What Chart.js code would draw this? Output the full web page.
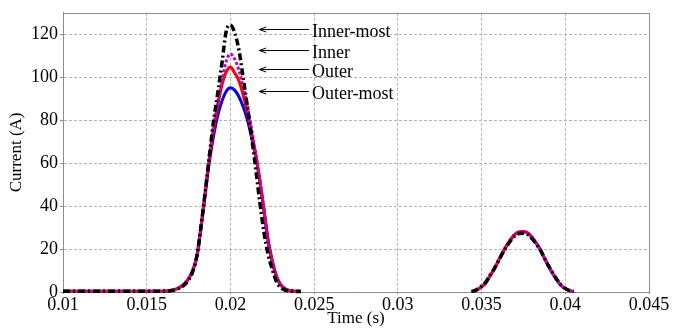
<!DOCTYPE html>
<html>
<head>
<meta charset="utf-8">
<script src="https://cdn.jsdelivr.net/npm/chart.js@4.4.0/dist/chart.umd.min.js"></script>
<style>
  html, body { margin: 0; padding: 0; background: #ffffff; }
  #c { display: block; }
</style>
</head>
<body>
<canvas id="c" width="674" height="331"></canvas>
<script>
// ---- data ----
const times = [
  0.010, 0.012, 0.014, 0.015, 0.0155, 0.016, 0.01625, 0.0165, 0.01675, 0.017,
  0.01725, 0.0175, 0.01775, 0.018, 0.01825, 0.0185, 0.01875, 0.019, 0.01925, 0.0195,
  0.01975, 0.020, 0.02025, 0.0205, 0.02075, 0.021, 0.02125, 0.0215, 0.02175, 0.022,
  0.02225, 0.0225, 0.02275, 0.023, 0.02325, 0.0235, 0.0238, 0.0242,
  0.029,
  0.0344, 0.0346, 0.03475, 0.035, 0.03525, 0.0355, 0.03575, 0.036, 0.03625, 0.0365,
  0.03675, 0.037, 0.03725, 0.0375, 0.03775, 0.038, 0.03825, 0.0385, 0.03875, 0.039,
  0.03925, 0.0395, 0.03975, 0.040, 0.0403, 0.0405
];

const innerMost = [
  0.3, 0.3, 0.3, 0.3, 0.3, 0.4, 0.5, 0.7, 1.1, 2.0,
  3.3, 5.5, 9.5, 17, 31, 47, 64, 80, 93, 107,
  121.5, 124.3, 120.8, 113, 100.3, 87, 73, 58, 42, 28,
  17.5, 10.5, 4.8, 2.0, 0.9, 0.5, 0.3, 0.2,
  null,
  0.3, 0.7, 1.3, 2.7, 4.6, 7.7, 10.8, 14.4, 18.0, 21.2,
  24.0, 26.2, 27.2, 27.4, 26.8, 25.0, 22.5, 19.6, 15.9, 12.2,
  8.9, 5.8, 3.3, 1.7, 0.6, 0.3
];

const inner = [
  0.3, 0.3, 0.3, 0.3, 0.3, 0.4, 0.5, 0.8, 1.3, 2.3,
  3.8, 6.2, 10, 17, 31, 47, 63, 77.5, 89, 98.5,
  107.5, 110.8, 108.5, 103.5, 96, 87, 76.5, 65, 52, 38,
  23.5, 14, 7, 3.2, 1.4, 0.7, 0.4, 0.3,
  null,
  0.2, 0.5, 1.1, 2.4, 4.3, 7.5, 10.6, 14.4, 18.2, 21.5,
  24.5, 26.8, 27.9, 28.1, 27.4, 25.5, 22.8, 19.8, 15.8, 12.0,
  8.6, 5.5, 3.0, 1.5, 0.5, 0.2
];

const outer = [
  0.3, 0.3, 0.3, 0.3, 0.3, 0.4, 0.5, 0.8, 1.3, 2.3,
  3.8, 6.2, 10, 17, 30.5, 46.5, 62.5, 76, 87, 96.5,
  102.5, 104.8, 102, 98.5, 92, 84, 74.5, 64.5, 52.5, 38,
  23.5, 14, 7, 3.3, 1.5, 0.7, 0.4, 0.3,
  null,
  0.2, 0.5, 1.1, 2.4, 4.3, 7.5, 10.7, 14.5, 18.3, 21.7,
  24.7, 27.0, 28.1, 28.3, 27.6, 25.7, 23.0, 19.9, 15.9, 12.0,
  8.6, 5.5, 3.0, 1.5, 0.5, 0.2
];

const outerMost = [
  0.3, 0.3, 0.3, 0.3, 0.3, 0.4, 0.5, 0.8, 1.3, 2.3,
  3.8, 6.2, 10, 16.5, 30.5, 46, 61, 73, 82.5, 89,
  93.5, 95.1, 94, 91, 86.5, 80.5, 72.5, 63.5, 52, 38.5,
  24.5, 14.5, 7.5, 3.5, 1.6, 0.7, 0.4, 0.3,
  null,
  0.2, 0.5, 1.1, 2.4, 4.3, 7.5, 10.6, 14.4, 18.2, 21.5,
  24.5, 26.8, 27.8, 28.0, 27.3, 25.4, 22.8, 19.8, 15.8, 12.0,
  8.6, 5.5, 3.0, 1.5, 0.5, 0.2
];

const xTickValues = [0.01, 0.015, 0.02, 0.025, 0.03, 0.035, 0.04, 0.045];
const xTickLabels = ['0.01', '0.015', '0.02', '0.025', '0.03', '0.035', '0.04', '0.045'];
const yTickValues = [0, 20, 40, 60, 80, 100, 120];
const yTickLabels = ['0', '20', '40', '60', '80', '100', '120'];

// annotation labels with the level each arrow points at
const annLabels = ['Inner-most', 'Inner', 'Outer', 'Outer-most'];
const annLevels = [122.4, 112.5, 104.0, 93.5];
const annArrowTip = 0.02172;
const annArrowTail = 0.02469;
const annTextStart = 0.02487;

// ---- chart ----
const FONT = 'Liberation Serif, Times New Roman, serif';
const GRID = '#b4b4b4';
const FRAME = '#8c8c8c';

function pts(vals) {
  return times.map((t, i) => ({ x: t, y: vals[i] }));
}

const framePlugin = {
  id: 'frame',
  beforeDatasetsDraw(chart) {
    const { ctx, chartArea: a } = chart;
    ctx.save();
    ctx.strokeStyle = FRAME;
    ctx.lineWidth = 1;
    ctx.beginPath();
    ctx.moveTo(Math.round(a.left) + 0.5, Math.round(a.top) + 0.5);
    ctx.lineTo(Math.round(a.right) + 0.5, Math.round(a.top) + 0.5);
    ctx.lineTo(Math.round(a.right) + 0.5, Math.round(a.bottom) + 0.5);
    ctx.stroke();
    ctx.restore();
  }
};

const annotPlugin = {
  id: 'annot',
  afterDatasetsDraw(chart) {
    const { ctx } = chart;
    const xs = chart.scales.x, ys = chart.scales.y;
    ctx.save();
    ctx.strokeStyle = '#000';
    ctx.fillStyle = '#000';
    ctx.lineWidth = 1;
    ctx.font = '18px ' + FONT;
    ctx.textAlign = 'left';
    ctx.textBaseline = 'alphabetic';
    annLabels.forEach((lab, i) => {
      const y = Math.round(ys.getPixelForValue(annLevels[i])) + 0.5;
      const x1 = xs.getPixelForValue(annArrowTip);
      const x2 = xs.getPixelForValue(annArrowTail);
      ctx.beginPath();
      ctx.moveTo(x1, y);
      ctx.lineTo(x2, y);
      ctx.moveTo(x1 + 7, y - 2.5);
      ctx.lineTo(x1, y);
      ctx.lineTo(x1 + 7, y + 2.5);
      ctx.stroke();
      ctx.fillText(lab, xs.getPixelForValue(annTextStart), y + 7);
    });
    ctx.restore();
  }
};

const common = { pointRadius: 0, fill: false, spanGaps: false, cubicInterpolationMode: 'monotone', clip: 6 };

new Chart(document.getElementById('c'), {
  type: 'line',
  data: {
    datasets: [
      Object.assign({ label: 'Inner-most', data: pts(innerMost), borderColor: '#000000', borderWidth: 3.5, borderDash: [7, 3, 2, 3], order: 0 }, common),
      Object.assign({ label: 'Inner', data: pts(inner), borderColor: '#c000c8', borderWidth: 3, borderDash: [3, 2], order: 1 }, common),
      Object.assign({ label: 'Outer', data: pts(outer), borderColor: '#ff0000', borderWidth: 3, order: 2 }, common),
      Object.assign({ label: 'Outer-most', data: pts(outerMost), borderColor: '#0000ff', borderWidth: 3, order: 3 }, common)
    ]
  },
  options: {
    responsive: false,
    animation: false,
    devicePixelRatio: 1,
    layout: { padding: { left: 0, right: 25, top: 10, bottom: 0 } },
    plugins: { legend: { display: false }, tooltip: { enabled: false } },
    scales: {
      x: {
        type: 'linear',
        min: 0.01, max: 0.045,
        afterBuildTicks(s) { s.ticks = xTickValues.map(v => ({ value: v })); },
        afterFit(s) { s.height = 39; },
        ticks: {
          autoSkip: false, maxRotation: 0, padding: 0, color: '#000',
          font: { family: FONT, size: 18 },
          callback(v, i) { return xTickLabels[i]; }
        },
        grid: { color: GRID, lineWidth: 1, tickLength: 2, tickColor: FRAME, drawTicks: true },
        border: { display: true, color: FRAME, width: 1, dash: [3, 2] },
        title: { display: true, text: 'Time (s)', color: '#000', font: { family: FONT, size: 17 }, padding: { top: 0, bottom: 2 } }
      },
      y: {
        type: 'linear',
        min: 0, max: 130,
        afterBuildTicks(s) { s.ticks = yTickValues.map(v => ({ value: v })); },
        afterFit(s) { s.width = 63; },
        ticks: {
          autoSkip: false, padding: 2, color: '#000',
          font: { family: FONT, size: 18 },
          callback(v, i) { return yTickLabels[i]; }
        },
        grid: { color: GRID, lineWidth: 1, tickLength: 3, tickColor: FRAME, drawTicks: true },
        border: { display: true, color: FRAME, width: 1, dash: [3, 2] },
        title: { display: true, text: 'Current (A)', color: '#000', font: { family: FONT, size: 17 }, padding: { top: 6, bottom: 0 } }
      }
    }
  },
  plugins: [framePlugin, annotPlugin]
});
</script>
</body>
</html>
